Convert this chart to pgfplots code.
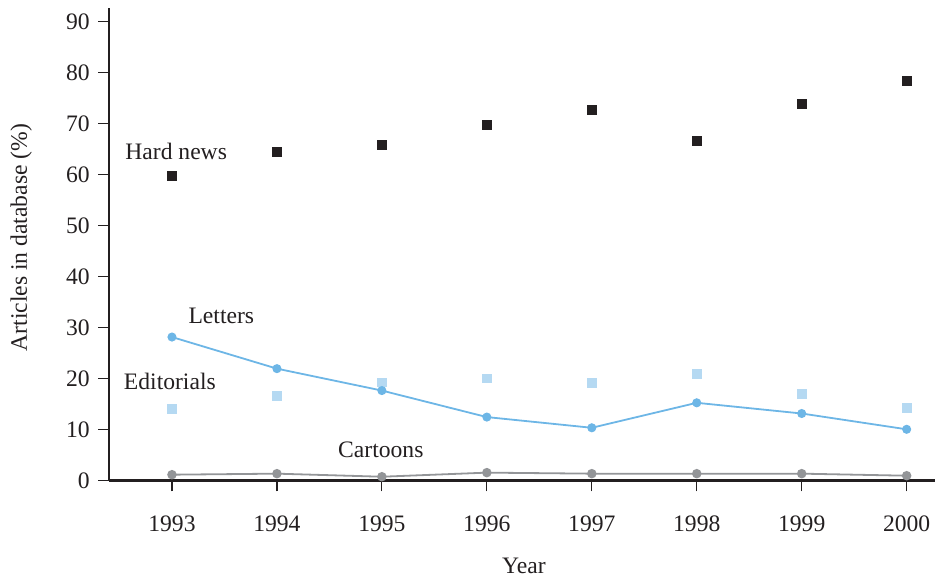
\documentclass[border=0pt]{standalone}
\usepackage{fontspec}
\setmainfont{Liberation Serif}
\usepackage{pgfplots}
\pgfplotsset{compat=1.18}
\definecolor{hardc}{HTML}{231F20}
\definecolor{letc}{HTML}{6DB6E6}
\definecolor{edc}{HTML}{B5D9F2}
\definecolor{carc}{HTML}{939598}
\begin{document}
\fontsize{11.8}{14}\selectfont
\begin{tikzpicture}
\begin{axis}[
  scale only axis,
  width=413pt, height=236.15pt,
  xmin=1992.4, xmax=2000.27,
  ymin=0, ymax=92.65,
  axis lines=left,
  axis line style={-, line width=1.3pt, color=hardc},
  tick align=outside,
  major tick length=5.5pt,
  tick style={line width=0.6pt, color=hardc},
  xtick={1993,1994,1995,1996,1997,1998,1999,2000},
  ytick={0,10,20,30,40,50,60,70,80,90},
  /pgf/number format/assume math mode=true,
  /pgf/number format/1000 sep={},
  tick label style={font=\fontsize{11.8}{14}\selectfont, text=hardc},
  xticklabel style={yshift=-8.2pt},
  xlabel={Year},
  ylabel={Articles in database (\%)},
  label style={font=\fontsize{11.8}{14}\selectfont, text=hardc},
  xlabel style={at={(axis description cs:0.5024,-0.1984)}, anchor=base},
  ylabel style={at={(axis description cs:-0.0993,0.514)}, anchor=base},
  clip=false,
]
% Hard news
\addplot[only marks, mark=square*, mark size=2.25pt, color=hardc] coordinates {
 (1993,59.7) (1994,64.4) (1995,65.8) (1996,69.7) (1997,72.7) (1998,66.6) (1999,73.9) (2000,78.4)};
% Editorials
\addplot[only marks, mark=square*, mark size=2.2pt, color=edc] coordinates {
 (1993,14.05) (1994,16.5) (1995,19.2) (1996,20.0) (1997,19.1) (1998,20.8) (1999,16.9) (2000,14.2)};
% Letters
\addplot[line width=0.9pt, color=letc, mark=*, mark size=1.8pt, mark options={solid, fill=letc, draw=letc}] coordinates {
 (1993,28.1) (1994,21.9) (1995,17.6) (1996,12.4) (1997,10.3) (1998,15.2) (1999,13.1) (2000,10.0)};
% Cartoons
\addplot[line width=0.9pt, color=carc, mark=*, mark size=1.9pt, mark options={solid, fill=carc, draw=carc}] coordinates {
 (1993,1.1) (1994,1.3) (1995,0.7) (1996,1.5) (1997,1.3) (1998,1.3) (1999,1.3) (2000,0.9)};
\node[anchor=base, text=hardc] at (axis cs:1993.04,63.0) {Hard news};
\node[anchor=base, text=hardc] at (axis cs:1993.47,30.8) {Letters};
\node[anchor=base, text=hardc] at (axis cs:1992.98,17.8) {Editorials};
\node[anchor=base, text=hardc] at (axis cs:1994.99,4.4) {Cartoons};
\end{axis}
\pgfresetboundingbox
\path[use as bounding box] ([shift={(-54.5pt,-50.35pt)}]current axis.south west) rectangle ++(469pt,290.5pt);
\end{tikzpicture}
\end{document}
